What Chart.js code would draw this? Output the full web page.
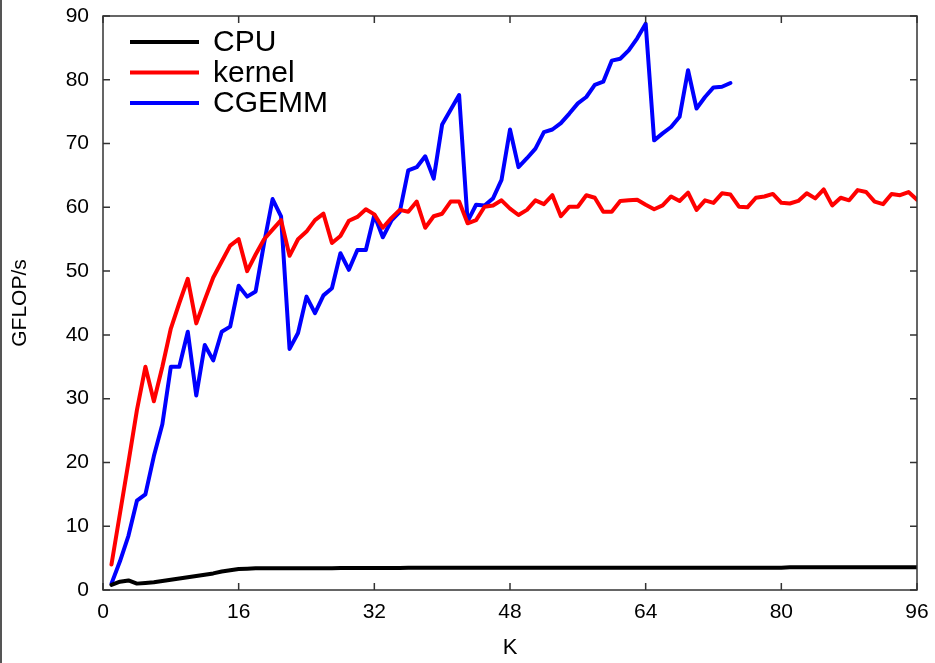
<!DOCTYPE html>
<html>
<head>
<meta charset="utf-8">
<script src="https://cdn.jsdelivr.net/npm/chart.js@4.4.1/dist/chart.umd.min.js"></script>
<style>
  html, body { margin: 0; padding: 0; background: #fff; }
  #wrap { width: 935px; height: 663px; }
</style>
</head>
<body>
<div id="wrap"><canvas id="chart" width="935" height="663"></canvas></div>
<script>
// K values (x axis)
const kValues = [
  1, 2, 3, 4, 5, 6, 7, 8, 9, 10, 11, 12, 13, 14, 15, 16,
  17, 18, 19, 20, 21, 22, 23, 24, 25, 26, 27, 28, 29, 30, 31, 32,
  33, 34, 35, 36, 37, 38, 39, 40, 41, 42, 43, 44, 45, 46, 47, 48,
  49, 50, 51, 52, 53, 54, 55, 56, 57, 58, 59, 60, 61, 62, 63, 64,
  65, 66, 67, 68, 69, 70, 71, 72, 73, 74, 75, 76, 77, 78, 79, 80,
  81, 82, 83, 84, 85, 86, 87, 88, 89, 90, 91, 92, 93, 94, 95, 96
];

// GFLOP/s per series
const cpuValues = [
  0.8, 1.3, 1.5, 1.0, 1.1, 1.2, 1.4, 1.6, 1.8, 2.0, 2.2, 2.4, 2.6, 2.9, 3.1, 3.3,
  3.35, 3.4, 3.4, 3.4, 3.4, 3.4, 3.4, 3.4, 3.4, 3.4, 3.4, 3.45, 3.45, 3.45, 3.45, 3.45,
  3.45, 3.45, 3.45, 3.5, 3.5, 3.5, 3.5, 3.5, 3.5, 3.5, 3.5, 3.5, 3.5, 3.5, 3.5, 3.5,
  3.5, 3.5, 3.5, 3.5, 3.5, 3.5, 3.5, 3.5, 3.5, 3.5, 3.5, 3.5, 3.5, 3.5, 3.5, 3.5,
  3.5, 3.5, 3.5, 3.5, 3.5, 3.5, 3.5, 3.5, 3.5, 3.5, 3.5, 3.5, 3.5, 3.5, 3.5, 3.5,
  3.55, 3.55, 3.55, 3.55, 3.55, 3.55, 3.55, 3.55, 3.55, 3.55, 3.55, 3.55, 3.55, 3.55, 3.55, 3.55
];

const kernelValues = [
  4, 12, 20, 28.2, 35, 29.6, 35, 41, 45, 48.8, 41.8, 45.5, 49, 51.5, 54, 55,
  50, 52.6, 55, 56.5, 58, 52.4, 55, 56.2, 58, 59, 54.4, 55.5, 57.9, 58.5, 59.7, 58.9,
  56.8, 58.3, 59.6, 59.3, 60.9, 56.8, 58.6, 59, 60.9, 60.9, 57.5, 58, 60.1, 60.3, 61.1, 59.8,
  58.8, 59.6, 61.1, 60.5, 61.9, 58.6, 60.1, 60.1, 61.9, 61.5, 59.3, 59.3, 61, 61.1, 61.2, 60.4,
  59.7, 60.3, 61.7, 61, 62.3, 59.6, 61.1, 60.7, 62.2, 62, 60.1, 60, 61.5, 61.7, 62.1, 60.7,
  60.6, 61, 62.2, 61.4, 62.8, 60.3, 61.5, 61.1, 62.7, 62.4, 60.9, 60.5, 62.1, 61.9, 62.4, 61.2
];

const cgemmValues = [
  1, 4.5, 8.5, 14, 15, 21, 26, 35, 35, 40.5, 30.5, 38.4, 36, 40.5, 41.3, 47.7,
  46, 46.8, 54.4, 61.3, 58.6, 37.8, 40.3, 46, 43.4, 46.2, 47.3, 52.8, 50.2, 53.3, 53.3, 58.8,
  55.3, 57.9, 59.3, 65.8, 66.3, 68, 64.5, 73, 75.3, 77.6, 57.8, 60.4, 60.3, 61.4, 64.3, 72.2,
  66.3, 67.7, 69.2, 71.8, 72.2, 73.2, 74.7, 76.3, 77.3, 79.2, 79.7, 83, 83.3, 84.6, 86.5, 88.8,
  70.5, 71.6, 72.6, 74.2, 81.5, 75.5, 77.3, 78.8, 78.9, 79.5
];

const seriesLabels = ['CPU', 'kernel', 'CGEMM'];
const xTicks = [0, 16, 32, 48, 64, 80, 96];

const FONT = "'Liberation Sans', Arial, sans-serif";
const AXIS_COLOR = '#333';

function points(values) {
  return values.map((v, i) => ({ x: kValues[i], y: v }));
}

// frame, inward ticks and the legend inside the plot
const framePlugin = {
  id: 'frame',
  afterDraw(chart) {
    const { ctx, chartArea: a, scales } = chart;
    ctx.save();
    ctx.strokeStyle = AXIS_COLOR;
    ctx.lineWidth = 1.5;
    ctx.strokeRect(a.left, a.top, a.right - a.left, a.bottom - a.top);

    const len = 7;
    ctx.beginPath();
    scales.x.ticks.forEach(t => {
      const px = scales.x.getPixelForValue(t.value);
      ctx.moveTo(px, a.bottom); ctx.lineTo(px, a.bottom - len);
      ctx.moveTo(px, a.top); ctx.lineTo(px, a.top + len);
    });
    scales.y.ticks.forEach(t => {
      const py = scales.y.getPixelForValue(t.value);
      ctx.moveTo(a.left, py); ctx.lineTo(a.left + len, py);
      ctx.moveTo(a.right, py); ctx.lineTo(a.right - len, py);
    });
    ctx.stroke();

    // legend
    ctx.font = '30px ' + FONT;
    ctx.textBaseline = 'middle';
    ctx.textAlign = 'left';
    chart.data.datasets.forEach((ds, i) => {
      const y = a.top + 26 + i * 30.5;
      ctx.strokeStyle = ds.borderColor;
      ctx.lineWidth = 4;
      ctx.beginPath();
      ctx.moveTo(a.left + 27, y);
      ctx.lineTo(a.left + 96, y);
      ctx.stroke();
      ctx.fillStyle = '#000';
      ctx.fillText(ds.label, a.left + 110, y + 1);
    });

    // left edge line of the picture
    ctx.strokeStyle = '#555';
    ctx.lineWidth = 2;
    ctx.beginPath();
    ctx.moveTo(1, 0); ctx.lineTo(1, chart.height);
    ctx.stroke();
    ctx.restore();
  }
};

new Chart(document.getElementById('chart'), {
  type: 'line',
  data: {
    datasets: [
      { label: seriesLabels[0], data: points(cpuValues), borderColor: '#000000', borderWidth: 4 },
      { label: seriesLabels[1], data: points(kernelValues), borderColor: '#ff0000', borderWidth: 4 },
      { label: seriesLabels[2], data: points(cgemmValues), borderColor: '#0000ff', borderWidth: 4 },
    ],
  },
  options: {
    responsive: false,
    animation: false,
    events: [],
    elements: { point: { radius: 0 }, line: { tension: 0, borderJoinStyle: 'round', borderCapStyle: 'round' } },
    layout: { padding: { top: 16, right: 18, left: 0, bottom: 0 } },
    plugins: { legend: { display: false }, tooltip: { enabled: false } },
    scales: {
      x: {
        type: 'linear',
        min: 0,
        max: 96,
        afterBuildTicks: s => { s.ticks = xTicks.map(v => ({ value: v })); },
        afterFit: s => { s.height = 73; s.paddingLeft = 0; s.paddingRight = 0; },
        grid: { display: false, drawTicks: false },
        border: { display: false },
        ticks: { color: '#000', padding: 10, font: { family: FONT, size: 21 } },
        title: { display: true, text: 'K', color: '#000', padding: { top: 4, bottom: 2 }, font: { family: FONT, size: 22 } },
      },
      y: {
        min: 0,
        max: 90,
        ticks: { stepSize: 10, color: '#000', padding: 14, font: { family: FONT, size: 21 } },
        afterFit: s => { s.width = 103; s.paddingTop = 0; s.paddingBottom = 0; },
        grid: { display: false, drawTicks: false },
        border: { display: false },
        title: { display: true, text: 'GFLOP/s', color: '#000', padding: { top: 8, bottom: 0 }, font: { family: FONT, size: 21 } },
      },
    },
  },
  plugins: [framePlugin],
});
</script>
</body>
</html>
